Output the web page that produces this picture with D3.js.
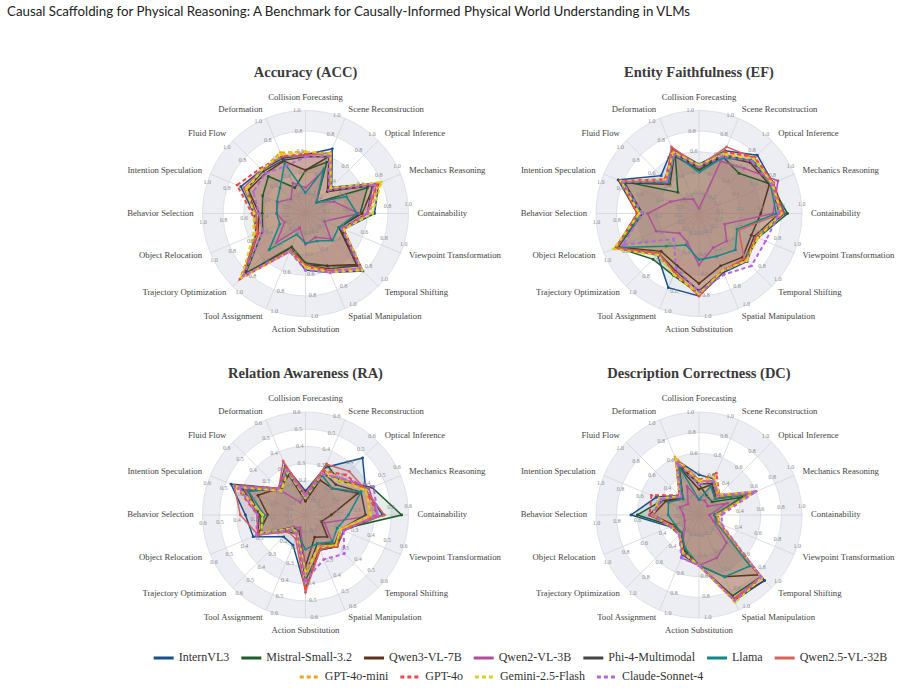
<!DOCTYPE html>
<html><head><meta charset="utf-8">
<script src="https://cdn.jsdelivr.net/npm/d3@7"></script>
<style>
body{margin:0;background:#fff;}
svg{display:block;}
</style></head>
<body>
<script>
// ---------- DATA ----------
const categories = ["Collision Forecasting","Scene Reconstruction","Optical Inference","Mechanics Reasoning",
  "Containability","Viewpoint Transformation","Temporal Shifting","Spatial Manipulation","Action Substitution",
  "Tool Assignment","Trajectory Optimization","Object Relocation","Behavior Selection","Intention Speculation",
  "Fluid Flow","Deformation"];
const models = ["InternVL3","Mistral-Small-3.2","Qwen3-VL-7B","Qwen2-VL-3B","Phi-4-Multimodal","Llama",
  "Qwen2.5-VL-32B","GPT-4o-mini","GPT-4o","Gemini-2.5-Flash","Claude-Sonnet-4"];
const metricTitles = ["Accuracy (ACC)","Entity Faithfulness (EF)","Relation Awareness (RA)","Description Correctness (DC)"];
const metricMax = [1.0, 1.0, 0.6, 1.0];
const ticks10 = ["0.2","0.4","0.6","0.8","1.0"];
const ticks06 = ["0.1","0.2","0.3","0.4","0.5","0.6"];

// values per model, axes in category order
const accValues = [
  [0.57,0.68,0.36,0.77,0.67,0.40,0.79,0.62,0.55,0.38,0.86,0.52,0.50,0.68,0.60,0.58],
  [0.42,0.54,0.15,0.65,0.53,0.36,0.72,0.55,0.48,0.35,0.82,0.45,0.42,0.45,0.51,0.27],
  [0.42,0.60,0.30,0.72,0.55,0.35,0.70,0.55,0.50,0.37,0.85,0.50,0.45,0.60,0.55,0.55],
  [0.25,0.45,0.15,0.30,0.52,0.20,0.35,0.25,0.30,0.15,0.40,0.22,0.28,0.29,0.20,0.32],
  [0.55,0.60,0.32,0.70,0.60,0.38,0.72,0.58,0.50,0.38,0.85,0.50,0.48,0.62,0.58,0.56],
  [0.20,0.47,0.15,0.43,0.50,0.35,0.37,0.29,0.29,0.22,0.50,0.27,0.28,0.30,0.35,0.53],
  [0.56,0.64,0.35,0.75,0.60,0.40,0.75,0.60,0.50,0.38,0.87,0.50,0.48,0.65,0.60,0.60],
  [0.60,0.62,0.34,0.78,0.62,0.40,0.76,0.60,0.52,0.40,0.88,0.52,0.50,0.62,0.60,0.64],
  [0.58,0.63,0.35,0.76,0.60,0.40,0.77,0.60,0.52,0.40,0.90,0.50,0.52,0.72,0.62,0.60],
  [0.60,0.63,0.35,0.80,0.65,0.40,0.78,0.62,0.52,0.40,0.88,0.55,0.50,0.62,0.60,0.62],
  [0.55,0.60,0.32,0.72,0.60,0.38,0.75,0.62,0.55,0.40,0.85,0.45,0.45,0.55,0.55,0.50]
];
const efValues = [
  [0.48,0.66,0.80,0.78,0.83,0.60,0.66,0.62,0.80,0.78,0.57,0.88,0.60,0.85,0.52,0.68],
  [0.42,0.60,0.55,0.75,0.86,0.62,0.64,0.60,0.78,0.65,0.63,0.86,0.55,0.83,0.29,0.60],
  [0.44,0.60,0.70,0.74,0.60,0.55,0.60,0.55,0.68,0.55,0.52,0.85,0.55,0.78,0.40,0.62],
  [0.05,0.55,0.62,0.83,0.72,0.27,0.38,0.36,0.50,0.30,0.27,0.45,0.50,0.30,0.20,0.15],
  [0.45,0.62,0.72,0.76,0.78,0.58,0.63,0.60,0.75,0.60,0.55,0.86,0.58,0.82,0.45,0.64],
  [0.40,0.58,0.74,0.75,0.75,0.40,0.50,0.45,0.45,0.33,0.45,0.86,0.56,0.80,0.42,0.63],
  [0.46,0.70,0.76,0.78,0.80,0.42,0.62,0.60,0.80,0.62,0.55,0.87,0.60,0.82,0.45,0.70],
  [0.47,0.64,0.76,0.76,0.80,0.60,0.65,0.60,0.78,0.62,0.56,0.88,0.58,0.82,0.46,0.65],
  [0.46,0.65,0.77,0.78,0.82,0.60,0.64,0.60,0.80,0.62,0.56,0.87,0.60,0.83,0.47,0.66],
  [0.47,0.62,0.75,0.77,0.80,0.62,0.65,0.60,0.78,0.64,0.57,0.90,0.58,0.82,0.46,0.64],
  [0.45,0.60,0.72,0.76,0.78,0.70,0.72,0.64,0.76,0.58,0.35,0.80,0.55,0.80,0.44,0.62]
];
const raValues = [
  [0.14,0.30,0.47,0.38,0.45,0.24,0.26,0.22,0.43,0.19,0.18,0.33,0.35,0.47,0.22,0.31],
  [0.10,0.32,0.28,0.42,0.56,0.22,0.26,0.22,0.38,0.12,0.14,0.28,0.26,0.40,0.20,0.27],
  [0.08,0.22,0.22,0.33,0.15,0.10,0.18,0.14,0.30,0.10,0.10,0.30,0.22,0.30,0.22,0.25],
  [0.12,0.25,0.30,0.40,0.42,0.12,0.22,0.20,0.32,0.08,0.10,0.30,0.28,0.38,0.20,0.08],
  [0.11,0.27,0.25,0.35,0.35,0.22,0.24,0.18,0.35,0.12,0.12,0.30,0.27,0.36,0.22,0.27],
  [0.10,0.25,0.22,0.35,0.25,0.20,0.22,0.18,0.20,0.12,0.12,0.28,0.24,0.36,0.22,0.28],
  [0.12,0.32,0.36,0.38,0.46,0.22,0.25,0.22,0.45,0.15,0.14,0.30,0.38,0.45,0.22,0.34],
  [0.10,0.28,0.30,0.38,0.38,0.22,0.25,0.20,0.35,0.12,0.12,0.28,0.25,0.42,0.20,0.28],
  [0.12,0.28,0.33,0.38,0.42,0.24,0.26,0.21,0.42,0.13,0.12,0.30,0.28,0.44,0.22,0.30],
  [0.10,0.26,0.28,0.38,0.38,0.22,0.25,0.20,0.33,0.12,0.11,0.28,0.25,0.43,0.20,0.27],
  [0.11,0.26,0.30,0.43,0.42,0.24,0.32,0.28,0.38,0.12,0.12,0.31,0.28,0.42,0.22,0.28]
];
const dcValues = [
  [0.39,0.38,0.27,0.58,0.17,0.22,0.90,0.90,0.49,0.42,0.27,0.30,0.66,0.45,0.27,0.58],
  [0.30,0.20,0.18,0.45,0.15,0.20,0.85,0.85,0.49,0.38,0.25,0.28,0.60,0.38,0.22,0.52],
  [0.25,0.32,0.22,0.52,0.16,0.20,0.82,0.65,0.49,0.36,0.24,0.26,0.45,0.35,0.22,0.50],
  [0.15,0.15,0.12,0.30,0.10,0.15,0.38,0.45,0.49,0.45,0.20,0.15,0.15,0.20,0.15,0.30],
  [0.30,0.33,0.24,0.55,0.16,0.20,0.90,0.88,0.49,0.38,0.26,0.28,0.48,0.38,0.24,0.55],
  [0.15,0.30,0.22,0.52,0.15,0.18,0.70,0.65,0.49,0.35,0.24,0.25,0.30,0.32,0.22,0.52],
  [0.33,0.36,0.25,0.55,0.17,0.20,0.85,0.88,0.49,0.40,0.26,0.28,0.45,0.40,0.25,0.56],
  [0.34,0.38,0.26,0.58,0.18,0.22,0.86,0.90,0.49,0.40,0.27,0.29,0.45,0.40,0.26,0.61],
  [0.34,0.44,0.28,0.58,0.18,0.22,0.86,0.89,0.49,0.40,0.27,0.30,0.48,0.50,0.27,0.58],
  [0.33,0.40,0.28,0.60,0.18,0.22,0.86,0.92,0.49,0.40,0.27,0.30,0.45,0.42,0.26,0.58],
  [0.30,0.36,0.27,0.60,0.22,0.24,0.85,0.90,0.49,0.45,0.27,0.30,0.45,0.40,0.25,0.55]
];
const allValues = [accValues, efValues, raValues, dcValues];

// ---------- STYLE ----------
const colors = ["#1a4f8b","#1b5e2b","#5a3620","#b24f9c","#454545","#138886","#d4625f",
  "#f3a21f","#ef4747","#d6d222","#b266e0"];
const dashed = [false,false,false,false,false,false,false,true,true,true,true];

const W = 901, H = 691, R = 103;
const centers = [[305.5,213.5],[699,213.5],[305.5,515],[699,515]];

const svg = d3.select("body").append("svg").attr("width", W).attr("height", H);

svg.append("text").attr("x", 7).attr("y", 16)
  .attr("font-family", "Lato, 'Open Sans', sans-serif").attr("font-size", 13.3).attr("fill", "#222")
  .text("Causal Scaffolding for Physical Reasoning: A Benchmark for Causally-Informed Physical World Understanding in VLMs");

const n = categories.length;
const angle = d3.scaleLinear().domain([0, n]).range([0, 2 * Math.PI]);
const serif = "'Liberation Serif', 'Times New Roman', serif";

allValues.forEach((vals, m) => {
  const [cx, cy] = centers[m];
  const max = metricMax[m];
  const r = d3.scaleLinear().domain([0, max]).range([0, R]);
  const tickLabels = max === 1 ? ticks10 : ticks06;
  const tickVals = tickLabels.map(Number);
  const g = svg.append("g").attr("transform", `translate(${cx},${cy})`);

  // subplot title
  svg.append("text").attr("x", cx).attr("y", cy - 140).attr("text-anchor", "middle")
    .attr("dominant-baseline", "middle")
    .attr("font-family", serif).attr("font-weight", "bold").attr("font-size", 14.5).attr("fill", "#3a3a3a")
    .text(metricTitles[m]);

  // background bands
  const bandEdges = [0].concat(tickVals);
  for (let i = bandEdges.length - 1; i >= 1; i--) {
    const fromOuter = bandEdges.length - 1 - i;
    g.append("circle").attr("r", r(bandEdges[i]))
      .attr("fill", fromOuter % 2 === 0 ? "#eceef4" : "#ffffff");
  }
  tickVals.forEach(t => g.append("circle").attr("r", r(t)).attr("fill", "none")
    .attr("stroke", "#d9dbe2").attr("stroke-width", 0.8));

  // spokes
  categories.forEach((c, i) => {
    const a = angle(i);
    g.append("line").attr("x1", 0).attr("y1", 0)
      .attr("x2", R * Math.sin(a)).attr("y2", -R * Math.cos(a))
      .attr("stroke", "#d2d4da").attr("stroke-width", 0.8);
  });

  // series fills
  const line = d3.lineRadial().angle((d, i) => angle(i)).radius(d => r(d)).curve(d3.curveLinearClosed);
  vals.forEach((v, s) => {
    g.append("path").attr("d", line(v)).attr("fill", colors[s]).attr("fill-opacity", 0.11).attr("stroke", "none");
  });
  // series lines
  vals.forEach((v, s) => {
    g.append("path").attr("d", line(v)).attr("fill", "none")
      .attr("stroke", colors[s]).attr("stroke-width", dashed[s] ? 2 : 1.5)
      .attr("stroke-dasharray", dashed[s] ? "4,3" : null)
      .attr("stroke-linejoin", "miter");
    v.forEach((d, i) => {
      const a = angle(i);
      g.append("circle").attr("cx", r(d) * Math.sin(a)).attr("cy", -r(d) * Math.cos(a))
        .attr("r", 1.4).attr("fill", colors[s]);
    });
  });

  // tick labels along each spoke (slightly rotated counter-clockwise)
  categories.forEach((c, i) => {
    const a = angle(i) - 0.085;
    tickVals.forEach((t, k) => {
      g.append("text").attr("x", r(t) * Math.sin(a)).attr("y", -r(t) * Math.cos(a))
        .attr("text-anchor", "middle").attr("dominant-baseline", "middle")
        .attr("font-family", serif).attr("font-size", 6).attr("fill", "#8a8a8a")
        .text(tickLabels[k]);
    });
  });

  // category labels
  categories.forEach((c, i) => {
    const a = angle(i);
    const sx = Math.sin(a), sy = -Math.cos(a);
    let rr = 112;
    if (Math.abs(sx) < 0.01) rr = 116;
    g.append("text").attr("x", rr * sx).attr("y", rr * sy)
      .attr("text-anchor", Math.abs(sx) < 0.01 ? "middle" : (sx > 0 ? "start" : "end"))
      .attr("dominant-baseline", "middle")
      .attr("font-family", serif).attr("font-size", 8.7).attr("fill", "#444")
      .text(c);
  });
});

// legend
const legendRows = [[0,1,2,3,4,5,6],[7,8,9,10]];
const rowY = [658, 677];
const rowShift = [70, 51];
legendRows.forEach((row, ri) => {
  const lg = svg.append("g");
  let x = 0;
  row.forEach(s => {
    const it = lg.append("g").attr("transform", `translate(${x},0)`);
    it.append("line").attr("x1", 0).attr("x2", 20).attr("y1", 0).attr("y2", 0)
      .attr("stroke", colors[s]).attr("stroke-width", 3)
      .attr("stroke-dasharray", dashed[s] ? "4,3" : null);
    const t = it.append("text").attr("x", 25).attr("y", 0).attr("dominant-baseline", "middle")
      .attr("font-family", serif).attr("font-size", 12).attr("fill", "#333").text(models[s]);
    x += 25 + t.node().getComputedTextLength() + 12;
  });
  const total = x - 12;
  lg.attr("transform", `translate(${(W - total) / 2 + rowShift[ri]},${rowY[ri]})`);
});
</script>
</body></html>
